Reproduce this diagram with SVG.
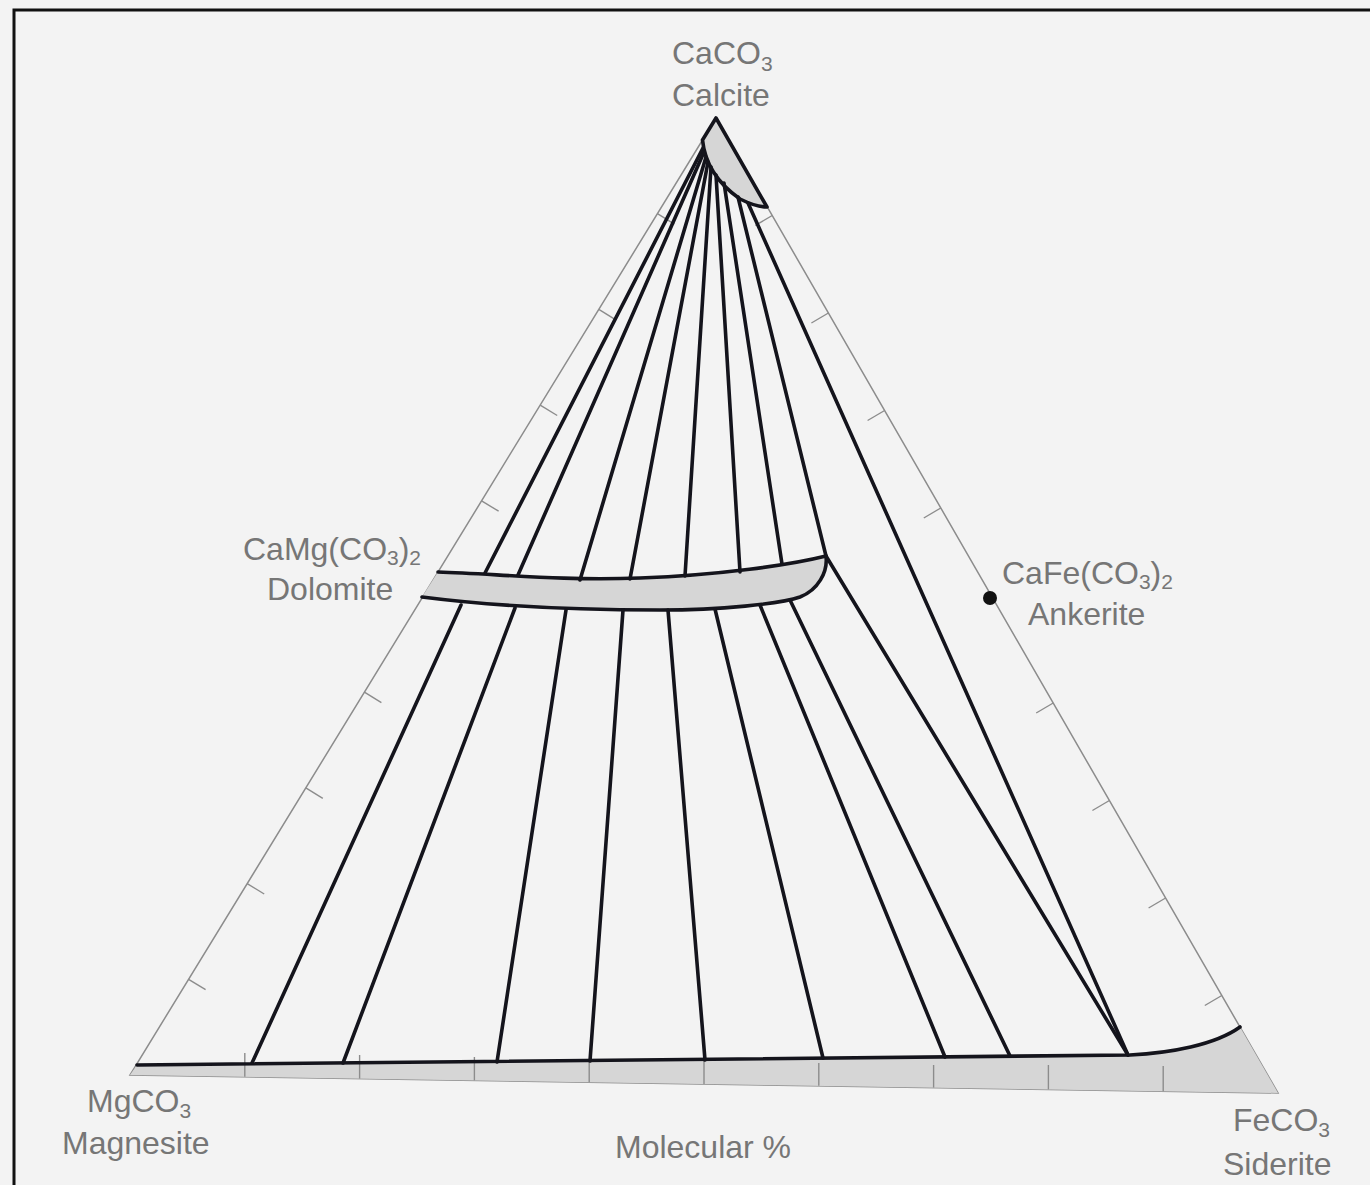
<svg xmlns="http://www.w3.org/2000/svg" width="1370" height="1185" viewBox="0 0 1370 1185">
<defs>
<style>
.lbl{font-family:"Liberation Sans","DejaVu Sans",sans-serif;font-size:32px;fill:#767676}
.sub{font-size:21px}
.side{fill:none;stroke:#8c8c8c;stroke-width:1.5}
.tick{stroke:#8c8c8c;stroke-width:1.4}
.tie{fill:none;stroke:#14141c;stroke-width:3.6;stroke-linecap:round}
.bound{fill:none;stroke:#14141c;stroke-width:3.6;stroke-linejoin:round;stroke-linecap:round}
.field{fill:#d6d6d6;stroke:none}
</style>
</defs>
<rect x="0" y="0" width="1370" height="1185" fill="#f3f3f3"/>
<path d="M14,1185 L14,10 L1370,10" fill="none" stroke="#111" stroke-width="3"/>

<g id="triangle">
<path class="side" d="M716,118 L130,1075 L1278,1093 Z"/>
<g id="ticks">
<line class="tick" x1="188.6" y1="979.3" x2="205.6" y2="989.7"/>
<line class="tick" x1="247.2" y1="883.6" x2="264.2" y2="894"/>
<line class="tick" x1="305.8" y1="787.9" x2="322.8" y2="798.3"/>
<line class="tick" x1="364.4" y1="692.2" x2="381.4" y2="702.6"/>
<line class="tick" x1="481.6" y1="500.8" x2="498.6" y2="511.2"/>
<line class="tick" x1="540.2" y1="405.1" x2="557.2" y2="415.5"/>
<line class="tick" x1="598.8" y1="309.4" x2="615.8" y2="319.8"/>
<line class="tick" x1="657.4" y1="213.7" x2="674.4" y2="224.1"/>
<line class="tick" x1="772.2" y1="215.5" x2="755.2" y2="225.5"/>
<line class="tick" x1="828.4" y1="313" x2="811.4" y2="323"/>
<line class="tick" x1="884.6" y1="410.5" x2="867.6" y2="420.5"/>
<line class="tick" x1="940.8" y1="508" x2="923.8" y2="518"/>
<line class="tick" x1="1053.2" y1="703" x2="1036.2" y2="713"/>
<line class="tick" x1="1109.4" y1="800.5" x2="1092.4" y2="810.5"/>
<line class="tick" x1="1165.6" y1="898" x2="1148.6" y2="908"/>
<line class="tick" x1="1221.8" y1="995.5" x2="1204.8" y2="1005.5"/>
</g>
</g>

<g id="siderite-field">
<path class="field" d="M137,1065 L1130,1055 C1170,1053 1215,1045 1240,1027 L1278,1093 L130,1075 Z"/>
<g id="bottom-ticks">
<line class="tick" x1="244.8" y1="1076.8" x2="244.8" y2="1053"/>
<line class="tick" x1="359.6" y1="1078.6" x2="359.6" y2="1055"/>
<line class="tick" x1="474.4" y1="1080.4" x2="474.4" y2="1057"/>
<line class="tick" x1="589.2" y1="1082.2" x2="589.2" y2="1059"/>
<line class="tick" x1="704" y1="1084" x2="704" y2="1061"/>
<line class="tick" x1="818.8" y1="1085.8" x2="818.8" y2="1063"/>
<line class="tick" x1="933.6" y1="1087.6" x2="933.6" y2="1065"/>
<line class="tick" x1="1048.4" y1="1089.4" x2="1048.4" y2="1065"/>
<line class="tick" x1="1163.2" y1="1091.2" x2="1163.2" y2="1066"/>
</g>
<path class="bound" d="M137,1065 L1130,1055 C1170,1053 1215,1045 1240,1027"/>
</g>

<g id="calcite-field">
<path class="field" d="M716,118 L767,207 C760,207 750,204 740,199 C720,185 705,165 702.5,140 Z"/>
<path class="bound" d="M702.5,140 L716,118 L767,207 C760,207 750,204 740,199 C720,185 705,165 702.5,140"/>
</g>

<g id="dolomite-field">
<path class="field" d="M438,572 C500,574 560,581 640,578 C720,575 790,565 826,556 C828,572 818,590 800,597 C780,604 720,610 660,610 C580,610 500,607 422,597 Z"/>
<path class="bound" d="M438,572 C500,574 560,581 640,578 C720,575 790,565 826,556 C828,572 818,590 800,597 C780,604 720,610 660,610 C580,610 500,607 422,597"/>
</g>

<g id="connectors">
<line class="tie" x1="703" y1="148" x2="485" y2="573"/>
<line class="tie" x1="704" y1="152" x2="518" y2="575"/>
<line class="tie" x1="706" y1="157" x2="580" y2="580"/>
<line class="tie" x1="708" y1="162" x2="630" y2="579"/>
<line class="tie" x1="711" y1="167" x2="685" y2="576"/>
<line class="tie" x1="716" y1="175" x2="740" y2="572"/>
<line class="tie" x1="724" y1="183" x2="782" y2="564"/>
<line class="tie" x1="738" y1="197" x2="826" y2="556"/>
<line class="tie" x1="748" y1="203" x2="1128" y2="1055"/>
<line class="tie" x1="461" y1="605" x2="252" y2="1063"/>
<line class="tie" x1="515" y1="608" x2="343" y2="1063"/>
<line class="tie" x1="566" y1="610" x2="497" y2="1062"/>
<line class="tie" x1="623" y1="610" x2="590" y2="1061"/>
<line class="tie" x1="668" y1="610" x2="705" y2="1060"/>
<line class="tie" x1="715" y1="609" x2="823" y2="1058"/>
<line class="tie" x1="760" y1="605" x2="945" y2="1057"/>
<line class="tie" x1="790" y1="600" x2="1010" y2="1056"/>
<line class="tie" x1="826" y1="556" x2="1128" y2="1055"/>
</g>

<g id="ankerite">
<circle cx="990" cy="598" r="7" fill="#111"/>
<text class="lbl" x="1002" y="584">CaFe(CO<tspan class="sub" dy="5">3</tspan><tspan dy="-5">)</tspan><tspan class="sub" dy="5">2</tspan></text>
<text class="lbl" x="1028" y="625">Ankerite</text>
</g>

<g id="calcite">
<text class="lbl" x="672" y="64">CaCO<tspan class="sub" dy="7">3</tspan></text>
<text class="lbl" x="672" y="106">Calcite</text>
</g>

<g id="dolomite">
<text class="lbl" x="243" y="560">CaMg(CO<tspan class="sub" dy="5">3</tspan><tspan dy="-5">)</tspan><tspan class="sub" dy="5">2</tspan></text>
<text class="lbl" x="267" y="600">Dolomite</text>
</g>

<g id="magnesite">
<text class="lbl" x="87" y="1112">MgCO<tspan class="sub" dy="6">3</tspan></text>
<text class="lbl" x="62" y="1154">Magnesite</text>
</g>

<g id="siderite">
<text class="lbl" x="1233" y="1131">FeCO<tspan class="sub" dy="6">3</tspan></text>
<text class="lbl" x="1223" y="1175">Siderite</text>
</g>

<text class="lbl" x="615" y="1158">Molecular %</text>
</svg>
